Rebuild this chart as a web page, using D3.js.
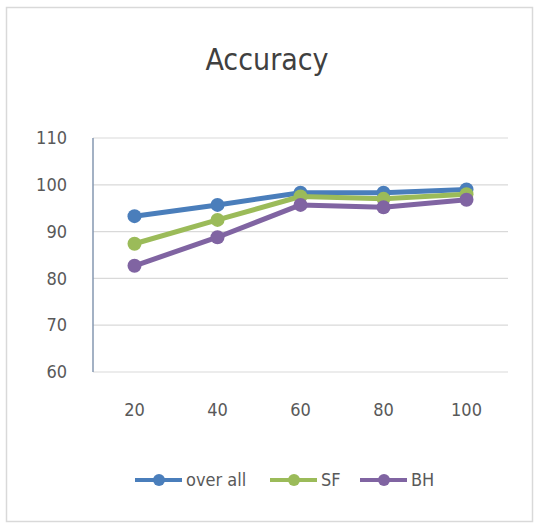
<!DOCTYPE html>
<html><head><meta charset="utf-8">
<script src="https://cdn.jsdelivr.net/npm/d3@7"></script>
<style>
body{margin:0;background:#fff;}
text{font-family:"DejaVu Sans Condensed","Liberation Sans Narrow",sans-serif;}
</style></head>
<body><svg id="c" width="534" height="523"></svg>
<script>
const categories = ["20","40","60","80","100"];
const overAll = [93.3, 95.7, 98.3, 98.3, 99.0];
const sf = [87.4, 92.5, 97.5, 97.0, 98.0];
const bh = [82.7, 88.8, 95.7, 95.2, 96.8];
const yTicks = [60,70,80,90,100,110];
const seriesNames = ["over all","SF","BH"];
const colors = ["#4a7ebb","#9bbb59","#8064a2"];
const series = [overAll, sf, bh];

(function(){
const svg = d3.select("#c");
const FF = "DejaVu Sans Condensed, sans-serif";
svg.append("rect").attr("x",6.5).attr("y",7.5).attr("width",526).attr("height",514)
  .attr("fill","#fff").attr("stroke","#d9d9d9").attr("stroke-width",1.5);

const pl=93, pr=508, pt=138, pb=372;
const x = d3.scaleBand().domain(categories).range([pl,pr]);
const y = d3.scaleLinear().domain([60,110]).range([pb,pt]);

svg.append("text").attr("x",267).attr("y",70).attr("text-anchor","middle")
  .attr("font-size",30).attr("fill","#404040").attr("font-family",FF).text("Accuracy");

const g = svg.append("g");
g.selectAll("line.grid").data(yTicks).join("line").attr("class","grid")
  .attr("x1",pl).attr("x2",pr).attr("y1",d=>y(d)).attr("y2",d=>y(d))
  .attr("stroke","#d9d9d9").attr("stroke-width",1.2);

const yAxis = d3.axisLeft(y).tickValues(yTicks).tickSize(0).tickPadding(26);
const ya = svg.append("g").attr("transform",`translate(${pl},0)`).call(yAxis);
ya.select(".domain").remove();
ya.selectAll("text").attr("font-size",18).attr("fill","#595959").attr("font-family",FF);
svg.append("line").attr("x1",pl).attr("x2",pl).attr("y1",pt).attr("y2",pb)
  .attr("stroke","#8497b0").attr("stroke-width",1.5);

const xAxis = d3.axisBottom(x).tickSize(0).tickPadding(31);
const xa = svg.append("g").attr("transform",`translate(0,${pb})`).call(xAxis);
xa.select(".domain").remove();
xa.selectAll("text").attr("font-size",18).attr("fill","#595959").attr("font-family",FF);

const line = d3.line().x((d,i)=>x(categories[i])+x.bandwidth()/2).y(d=>y(d));
series.forEach((s,k)=>{
  svg.append("path").datum(s).attr("d",line).attr("fill","none")
    .attr("stroke",colors[k]).attr("stroke-width",5).attr("stroke-linejoin","round");
  svg.append("g").selectAll("circle").data(s).join("circle")
    .attr("cx",(d,i)=>x(categories[i])+x.bandwidth()/2).attr("cy",d=>y(d))
    .attr("r",7).attr("fill",colors[k]);
});

const legX = [135, 270, 360];
const leg = svg.append("g");
seriesNames.forEach((n,k)=>{
  const lx = legX[k], ly = 480;
  leg.append("line").attr("x1",lx).attr("x2",lx+47).attr("y1",ly).attr("y2",ly)
    .attr("stroke",colors[k]).attr("stroke-width",4);
  leg.append("circle").attr("cx",lx+24).attr("cy",ly).attr("r",6).attr("fill",colors[k]);
  leg.append("text").attr("x",lx+51).attr("y",ly+6).attr("font-size",18)
    .attr("fill","#595959").attr("font-family",FF).text(n);
});
})();
</script></body></html>
